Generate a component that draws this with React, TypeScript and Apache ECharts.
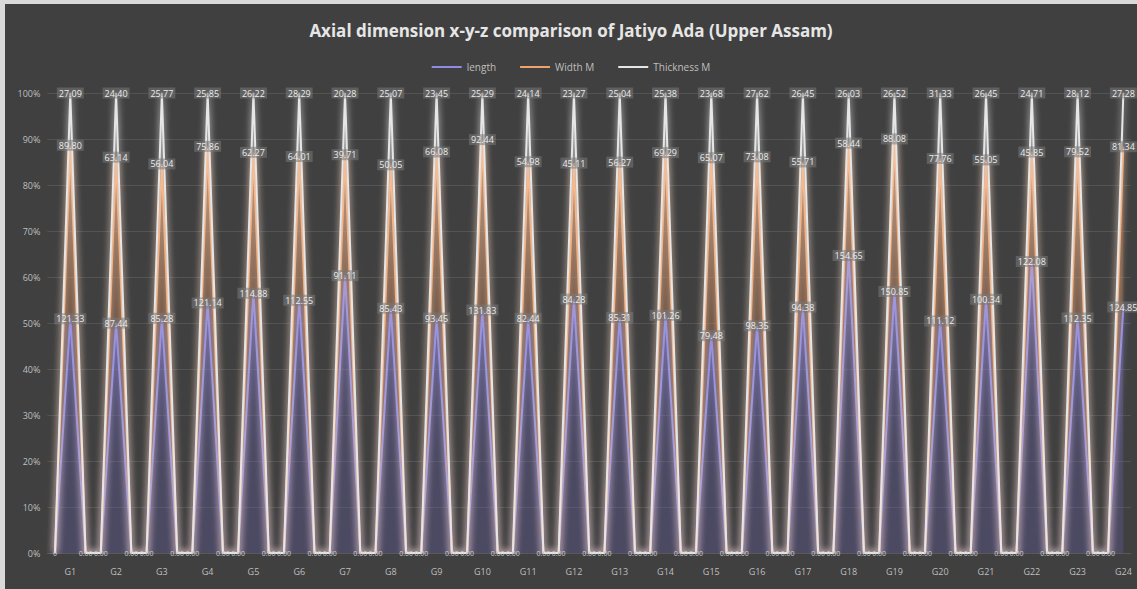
import React, { useEffect, useRef } from "react";
import * as echarts from "echarts";

const groups = ["G1","G2","G3","G4","G5","G6","G7","G8","G9","G10","G11","G12","G13","G14","G15","G16","G17","G18","G19","G20","G21","G22","G23","G24"];
const lengthVals = [121.33, 87.44, 85.28, 121.14, 114.88, 112.55, 91.11, 85.43, 93.45, 131.83, 82.44, 84.28, 85.31, 101.26, 79.48, 98.35, 94.38, 154.65, 150.85, 111.12, 100.34, 122.08, 112.35, 124.85];
const widthVals = [89.80, 63.14, 56.04, 75.86, 62.27, 64.01, 39.71, 50.05, 66.08, 92.44, 54.98, 45.11, 56.27, 69.29, 65.07, 73.08, 55.71, 58.44, 88.08, 77.76, 55.05, 45.85, 79.52, 81.34];
const thicknessVals = [27.09, 24.40, 25.77, 25.85, 26.22, 28.29, 20.28, 25.07, 23.45, 25.29, 24.14, 23.27, 25.04, 25.38, 23.68, 27.62, 26.45, 26.03, 26.52, 31.33, 26.45, 24.71, 28.12, 27.28];
const seriesNames = ["length", "Width M", "Thickness M"];

type Row = { cat: string; l: number; w: number; t: number; gap: boolean };

// the sheet has one empty (zero) row before G1 and two empty rows between groups
const rows: Row[] = [];
let gapId = 0;
const pushGap = () => rows.push({ cat: "gap" + gapId++, l: 0, w: 0, t: 0, gap: true });
pushGap();
groups.forEach((g, i) => {
  rows.push({ cat: g, l: lengthVals[i], w: widthVals[i], t: thicknessVals[i], gap: false });
  if (i < groups.length - 1) {
    pushGap();
    pushGap();
  }
});

const pct = (v: number, r: Row) => {
  const tot = r.l + r.w + r.t;
  return tot > 0 ? (v / tot) * 100 : 0;
};

export default function App() {
  const ref = useRef<HTMLDivElement>(null);
  useEffect(() => {
    if (!ref.current) return;
    const chart = echarts.init(ref.current, undefined, { renderer: "svg" });
    const labelBase = {
      show: true,
      position: "inside" as const,
      color: "#ececec",
      fontSize: 9,
      fontFamily: "Open Sans, sans-serif",
      backgroundColor: "rgba(120,120,120,0.55)",
      padding: [1, 2],
    };
    const mk = (
      idx: number,
      key: "l" | "w" | "t",
      line: string,
      glow: string,
      area: string
    ) => ({
      name: seriesNames[idx],
      type: "line",
      stack: "total",
      symbol: "circle",
      symbolSize: 1,
      showSymbol: true,
      lineStyle: { width: 2, color: line, shadowBlur: 7, shadowColor: glow },
      itemStyle: { color: line },
      areaStyle: { color: area },
      z: 2,
      data: rows.map((r, i) => {
        if (r.gap) {
          if (key === "t") {
            return {
              value: 0,
              label: {
                ...labelBase,
                backgroundColor: "transparent",
                padding: 0,
                fontSize: 7,
                formatter: i === 0 ? "0" : "0.00",
                color: "#cfcfcf",
              },
            };
          }
          return { value: 0, label: { show: false } };
        }
        return {
          value: pct(r[key], r),
          label: { ...labelBase, formatter: r[key].toFixed(2) },
        };
      }),
    });
    chart.setOption({
      animation: false,
      backgroundColor: "#404040",
      title: {
        text: "Axial dimension x-y-z comparison of Jatiyo Ada (Upper Assam)",
        left: "center",
        top: 13,
        textStyle: { color: "#e6e6e6", fontSize: 17, fontWeight: "bold", fontFamily: "Open Sans, sans-serif" },
      },
      legend: {
        top: 53,
        left: "center",
        itemWidth: 30,
        itemHeight: 2,
        itemGap: 24,
        icon: "rect",
        textStyle: { color: "#bfbfbf", fontSize: 10, fontFamily: "Open Sans, sans-serif" },
        data: [
          { name: seriesNames[0], itemStyle: { color: "#8d8de6" } },
          { name: seriesNames[1], itemStyle: { color: "#f0a26c" } },
          { name: seriesNames[2], itemStyle: { color: "#e6e6e6" } },
        ],
      },
      grid: { left: 42.4, right: 6, top: 89, bottom: 36 },
      xAxis: {
        type: "category",
        boundaryGap: true,
        data: rows.map((r) => r.cat),
        axisLine: { lineStyle: { color: "#595959" } },
        axisTick: { show: false },
        axisLabel: {
          interval: 0,
          margin: 14,
          color: "#bfbfbf",
          fontSize: 9,
          fontFamily: "Open Sans, sans-serif",
          formatter: (v: string) => (v.startsWith("gap") ? "" : v),
        },
        splitLine: { show: false },
      },
      yAxis: {
        type: "value",
        min: 0,
        max: 100,
        interval: 10,
        axisLine: { show: false },
        axisTick: { show: false },
        axisLabel: {
          formatter: "{value}%",
          color: "#bfbfbf",
          fontSize: 9,
          margin: 7,
          fontFamily: "Open Sans, sans-serif",
        },
        splitLine: { lineStyle: { color: "#535353", width: 1 } },
      },
      series: [
        mk(0, "l", "#8d8de6", "rgba(150,150,255,0.9)", "rgba(110,100,190,0.38)"),
        mk(1, "w", "#f0a26c", "rgba(255,170,110,0.9)", "rgba(190,110,60,0.38)"),
        mk(2, "t", "#e6e6e6", "rgba(255,255,255,0.8)", "rgba(225,215,225,0.3)"),
      ],
    });
    return () => chart.dispose();
  }, []);
  return (
    <div style={{ position: "fixed", left: 0, top: 0, width: 1137, height: 589, background: "#d9d9d9" }}>
      <div ref={ref} style={{ position: "absolute", left: 5, top: 4, width: 1132, height: 585 }} />
    </div>
  );
}
